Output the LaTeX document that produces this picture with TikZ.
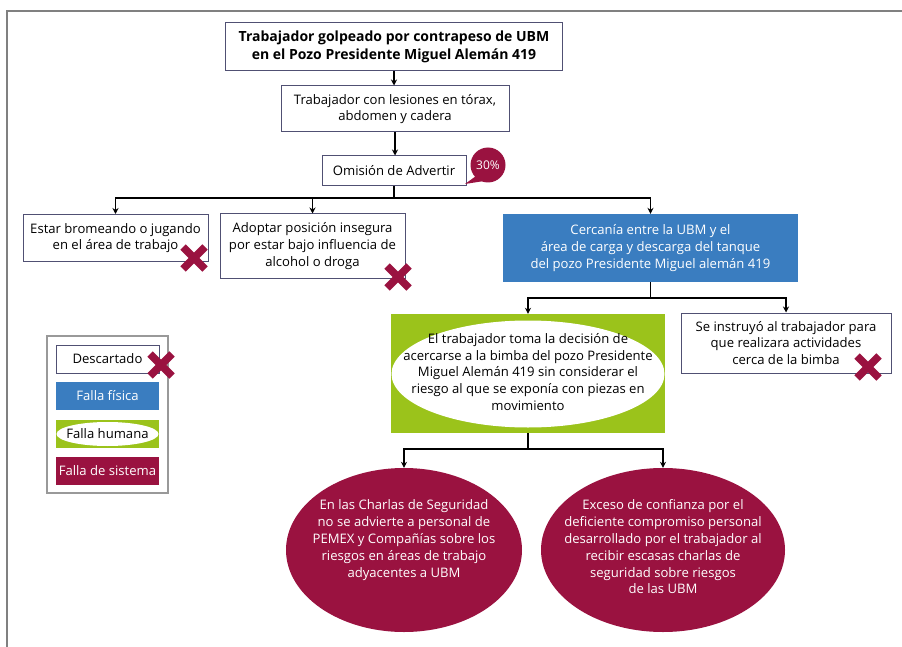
\documentclass[tikz,border=0pt]{standalone}
\usepackage{fontspec}
\setmainfont{Open Sans}
\usetikzlibrary{shapes.geometric,arrows.meta}
\definecolor{maroon}{RGB}{154,18,64}
\definecolor{fblue}{RGB}{58,125,192}
\definecolor{fgreen}{RGB}{155,195,27}
\definecolor{bord}{RGB}{80,80,115}
\begin{document}
\begin{tikzpicture}[x=1pt,y=-1pt,
  txt/.style={font=\fontsize{13.1}{16.8}\selectfont, align=center},
  wbox/.style={txt, draw=bord, line width=1pt, fill=white, inner sep=0pt},
  bbox/.style={txt, fill=fblue, text=white, inner sep=0pt},
  sbox/.style={txt, fill=maroon, text=white, inner sep=0pt},
  gbox/.style={fill=fgreen, inner sep=0pt},
  wellip/.style={ellipse, fill=white, inner sep=0pt},
  mellip/.style={ellipse, fill=maroon, inner sep=0pt},
  conn/.style={line width=1.6pt, black},
  arr/.style={conn, -{Stealth[length=6pt,width=6pt]}},
  xmk/.pic={\draw[maroon, line width=7.5pt] (-11,-11)--(11,11) (-11,11)--(11,-11);}
]
\useasboundingbox (0,0) rectangle (902,647);
% frame
\draw[gray, line width=2pt] (7,647) -- (7,11) -- (902,11);

% nodes
\node[wbox, minimum width=337, minimum height=48, font=\fontsize{14}{18}\selectfont\bfseries] (top) at (394,47)
  {Trabajador golpeado por contrapeso de UBM\\en el Pozo Presidente Miguel Alemán 419};
\node[wbox, minimum width=228, minimum height=46] (les) at (395,109)
  {Trabajador con lesiones en tórax,\\abdomen y cadera};
\node[wbox, minimum width=144, minimum height=30] (omi) at (394,171) {Omisión de Advertir};
% bubble
\fill[maroon] (476,176) -- (465,184) -- (484,181) -- cycle;
\node[circle, fill=maroon, minimum size=35, inner sep=0pt, text=white, font=\fontsize{12}{14}\selectfont] (pct) at (488,165) {30\%};

\node[wbox, minimum width=185, minimum height=47] (a) at (115.5,238)
  {Estar bromeando o jugando\\en el área de trabajo};
\node[wbox, minimum width=185, minimum height=64] (b) at (312.5,246)
  {Adoptar posición insegura\\por estar bajo influencia de\\alcohol o droga};
\node[bbox, minimum width=295, minimum height=68] (c) at (650.5,248)
  {Cercanía entre la UBM y el\\área de carga y descarga del tanque\\del pozo Presidente Miguel alemán 419};

\node[gbox, minimum width=274, minimum height=119] (g) at (528,373.5) {};
\node[wellip, minimum width=273, minimum height=107] (ge) at (528,374) {};
\node[txt] (gt) at (528,372)
  {El trabajador toma la decisión de\\acercarse a la bimba del pozo Presidente\\Miguel Alemán 419 sin considerar el\\riesgo al que se exponía con piezas en\\movimiento};
\node[wbox, minimum width=210, minimum height=60] (d) at (786,343)
  {Se instruyó al trabajador para\\que realizara actividades\\cerca de la bimba};

\node[mellip, minimum width=236, minimum height=164] (e1) at (404,550) {};
\node[txt, text=white] (e1t) at (404,540)
  {En las Charlas de Seguridad\\no se advierte a personal de\\PEMEX y Compañías sobre los\\riesgos en áreas de trabajo\\adyacentes a UBM};
\node[mellip, minimum width=244, minimum height=164] (e2) at (663,550) {};
\node[txt, text=white] (e2t) at (663,547)
  {Exceso de confianza por el\\deficiente compromiso personal\\desarrollado por el trabajador al\\recibir escasas charlas de\\seguridad sobre riesgos\\de las UBM};

% legend
\node[draw=gray!80, line width=1.5pt, minimum width=121, minimum height=157, inner sep=0pt] (leg) at (107.5,414.5) {};
\node[wbox, minimum width=103, minimum height=28] (l1) at (107.5,359) {Descartado};
\node[bbox, minimum width=103, minimum height=28] (l2) at (107.5,396) {Falla física};
\node[gbox, minimum width=103, minimum height=28] (l3) at (107.5,434) {};
\node[wellip, minimum width=102, minimum height=24] (l3e) at (107.5,434) {};
\node[txt] (l3t) at (107.5,434) {Falla humana};
\node[sbox, minimum width=103, minimum height=28] (l4) at (107.5,470.5) {Falla de sistema};

% X marks
\pic at (194,258) {xmk};
\pic at (398,277) {xmk};
\pic at (868,367) {xmk};
\pic at (161,365) {xmk};

% connectors
\draw[arr] (top.south) -- (top.south |- les.north);
\draw[arr] (les.south) -- (les.south |- omi.north);
\coordinate (bus1) at (394,198);
\draw[conn] (omi.south) -- (bus1);
\draw[arr] (bus1) -| (a.north);
\draw[arr] (bus1) -| (b.north);
\draw[arr] (bus1) -| (c.north);
\coordinate (bus2) at (650.5,298);
\draw[conn] (c.south) -- (bus2);
\draw[arr] (bus2) -| (g.north);
\draw[arr] (bus2) -| (d.north);
\coordinate (bus3) at (528,449);
\draw[conn] (g.south) -- (bus3);
\draw[arr] (bus3) -| (e1.north);
\draw[arr] (bus3) -| (e2.north);
\end{tikzpicture}
\end{document}
